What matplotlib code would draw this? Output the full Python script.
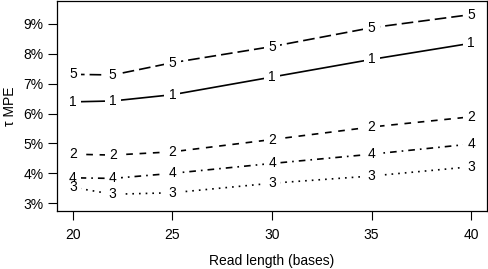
import numpy as np
import matplotlib
matplotlib.use('Agg')
import matplotlib.pyplot as plt
from matplotlib.ticker import FuncFormatter

plt.rcParams['font.family'] = ['Liberation Sans', 'DejaVu Sans']

## Dati
read_len = np.array([20, 22, 25, 30, 35, 40])
series_names = ['1', '2', '3', '4', '5']
mpe_1 = np.array([6.39, 6.42, 6.63, 7.22, 7.81, 8.35])
mpe_2 = np.array([4.64, 4.61, 4.72, 5.13, 5.55, 5.89])
mpe_3 = np.array([3.53, 3.30, 3.35, 3.67, 3.91, 4.22])
mpe_4 = np.array([3.85, 3.83, 4.00, 4.33, 4.64, 4.98])
mpe_5 = np.array([7.31, 7.29, 7.70, 8.24, 8.87, 9.31])
y_ticks = [3, 4, 5, 6, 7, 8, 9]
x_ticks = [20, 25, 30, 35, 40]

series = [mpe_1, mpe_2, mpe_3, mpe_4, mpe_5]
styles = ['-', (0, (4, 4)), (0, (1, 3)), (0, (1, 3, 4, 3)), (0, (7, 3))]

fig = plt.figure(figsize=(4.88, 2.69), dpi=100)
ax = fig.add_axes([57/488, 1 - 211/269, 430/488, 210.5/269])

for name, vals, ls in zip(series_names, series, styles):
    ax.plot(read_len, vals, color='black', linestyle=ls, linewidth=1.2, zorder=1)
    for x, y in zip(read_len, vals):
        # spazio bianco attorno al simbolo (stile type='b' di R)
        ax.text(x, y, name, ha='center', va='center', fontsize=10, zorder=2, color='white',
                bbox=dict(boxstyle='square,pad=0.3', facecolor='white', edgecolor='none'))
        ax.text(x, y, name, ha='center', va='center', fontsize=10, zorder=3, color='black')

ax.set_xlim(19.2, 40.8)
ax.set_ylim(2.74, 9.78)
ax.set_xticks(x_ticks)
ax.set_yticks(y_ticks)
ax.yaxis.set_major_formatter(FuncFormatter(lambda v, p: '%d%%' % v))
ax.tick_params(axis='both', labelsize=10, length=6.5, width=0.8)
ax.tick_params(axis='x', pad=5.5)
ax.tick_params(axis='y', pad=3)
for s in ax.spines.values():
    s.set_linewidth(0.9)

ax.set_xlabel('Read length (bases)', fontsize=10, labelpad=9)
ax.set_ylabel('τ MPE', fontsize=10, labelpad=5)

plt.savefig('out.png', dpi=100)
